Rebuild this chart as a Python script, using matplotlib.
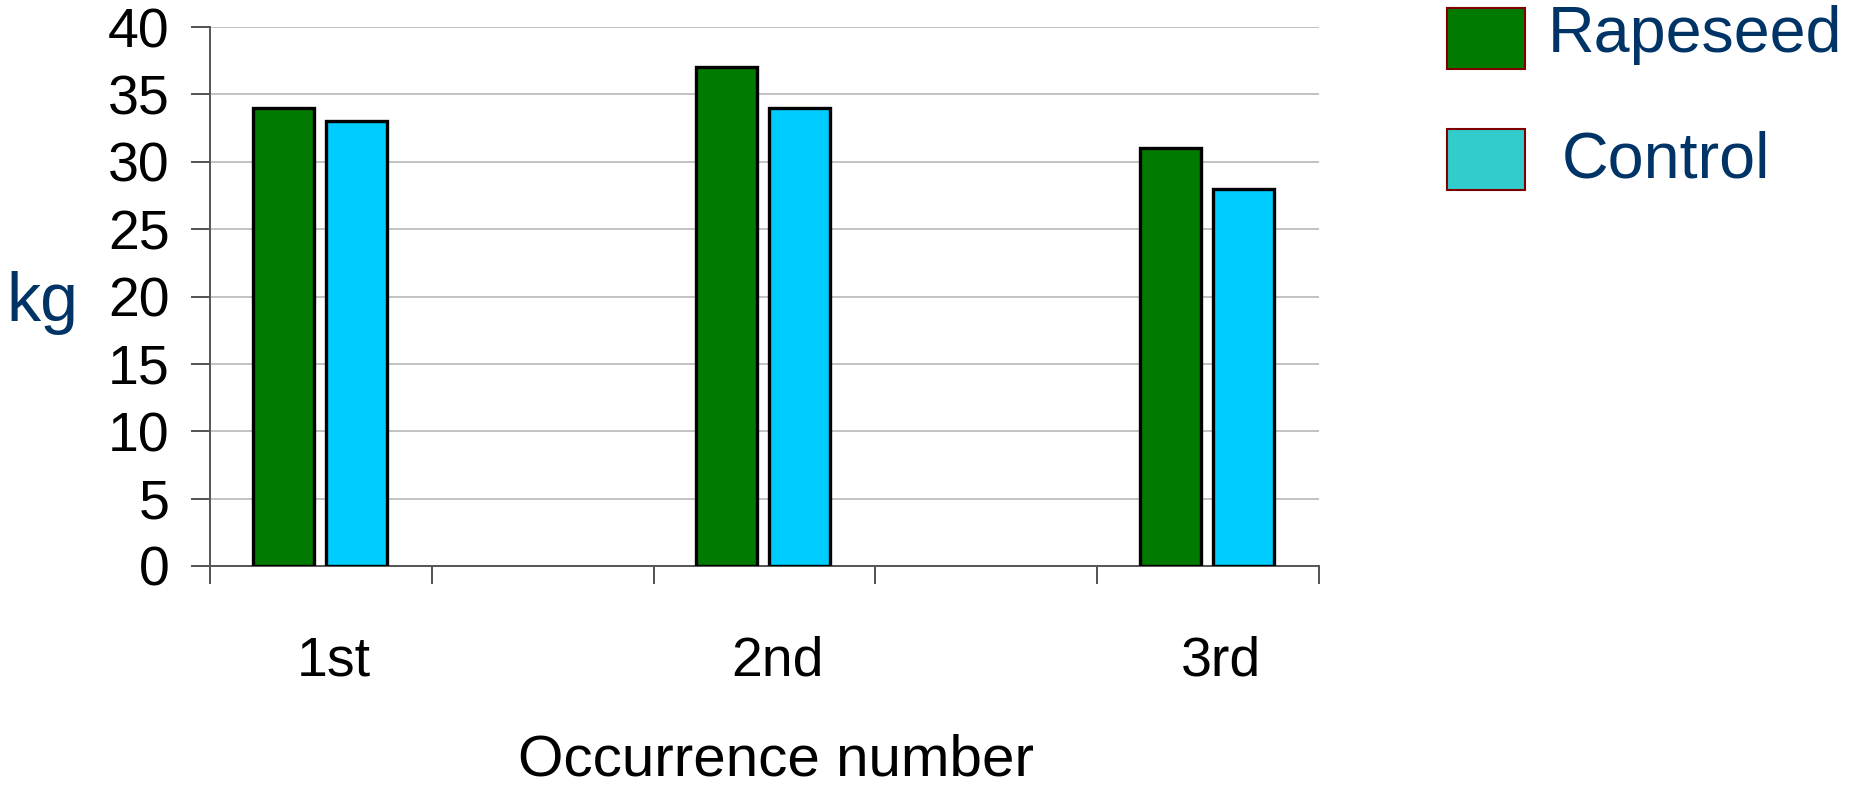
import matplotlib
matplotlib.use("Agg")
import matplotlib.pyplot as plt
from matplotlib.patches import Rectangle
import numpy as np

plt.rcParams["font.family"] = ["Liberation Sans", "DejaVu Sans"]

occurrences = ["1st", "2nd", "3rd"]
rapeseed = [34, 37, 31]
control = [33, 34, 28]
yticks = [0, 5, 10, 15, 20, 25, 30, 35, 40]

GREEN = "#007A00"
CYAN = "#00CCFF"
LEGEND_CYAN = "#33CCCC"
NAVY = "#003366"

W, H = 1852, 786
fig = plt.figure(figsize=(W / 100, H / 100), dpi=100)
ax = fig.add_axes([210 / W, 220 / H, (1319 - 210) / W, (566 - 27) / H])

# categories sit on every other slot of five
pos = np.arange(len(occurrences)) * 2
width = 0.275
ax.bar(pos - 0.17, rapeseed, width, color=GREEN, edgecolor="black", linewidth=2.4, zorder=3)
ax.bar(pos + 0.16, control, width, color=CYAN, edgecolor="black", linewidth=2.4, zorder=3)

ax.set_xlim(-0.5, 4.5)
ax.set_ylim(0, 40)
ax.set_yticks(yticks)
ax.yaxis.grid(True, color="#BDBDBD", linewidth=1.3, zorder=0)
ax.set_axisbelow(True)

ax.set_xticks(np.arange(-0.5, 4.6, 1.0))
ax.set_xticklabels([])
ax.tick_params(axis="x", length=13, width=1.2, color="#333333", direction="out")
ax.tick_params(axis="y", length=14, width=1.2, color="#333333", direction="out",
               labelsize=40, pad=15)

for p, lab in zip(pos, occurrences):
    ax.annotate(lab, xy=(p, 0), xycoords=("data", "axes fraction"),
                xytext=(9, -69), textcoords="offset points",
                ha="center", va="center", fontsize=40)

for side in ("top", "right"):
    ax.spines[side].set_visible(False)
for side in ("left", "bottom"):
    ax.spines[side].set_color("#555555")
    ax.spines[side].set_linewidth(1.4)

fig.text(776 / W, 1 - 760 / H, "Occurrence number", ha="center", va="center", fontsize=42)
fig.text(42 / W, 1 - 303 / H, "kg", ha="center", va="center", fontsize=49, color=NAVY)

# legend boxes and labels
legend = [("Rapeseed", GREEN, 8, 1548, 35), ("Control", LEGEND_CYAN, 129, 1562, 161)]
for name, face, top, tx, ty in legend:
    fig.add_artist(Rectangle((1447 / W, 1 - (top + 61) / H), 78 / W, 61 / H,
                             transform=fig.transFigure, facecolor=face,
                             edgecolor="#800000", linewidth=1.5))
    fig.text(tx / W, 1 - ty / H, name, ha="left", va="center",
             fontsize=46.5, color=NAVY)

fig.savefig("out.png", dpi=100)
